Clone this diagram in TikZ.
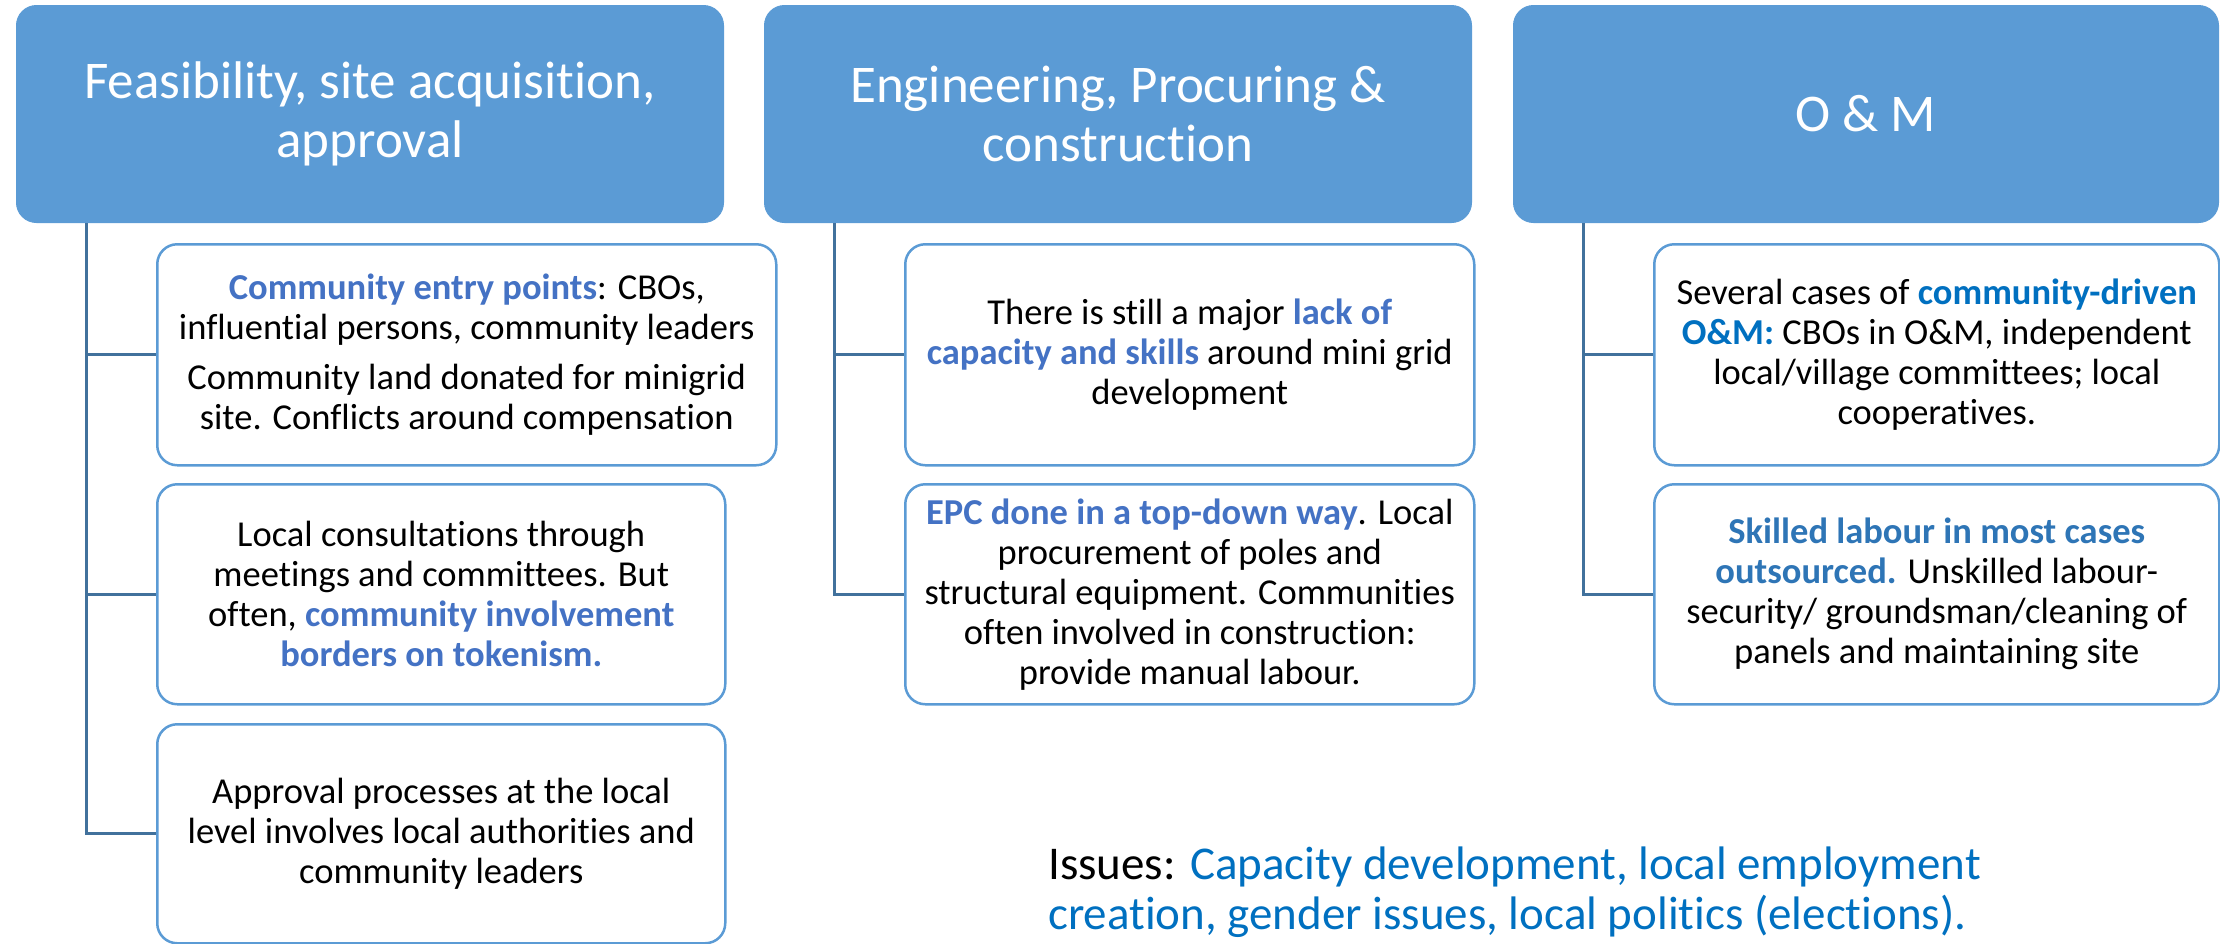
\documentclass[tikz,border=0pt]{standalone}
\usepackage{fontspec}
\setmainfont{Carlito}[Ligatures=NoCommon]
\definecolor{hdrfill}{HTML}{5B9BD5}
\definecolor{boxline}{HTML}{5B9BD5}
\definecolor{connline}{HTML}{41719C}
\definecolor{keyA}{HTML}{4472C4}
\definecolor{keyB}{HTML}{0070C0}
\definecolor{keyC}{HTML}{2E75B6}
\definecolor{issueblue}{HTML}{0070C0}
% highlighted key phrases
\newcommand\kwA[1]{\textcolor{keyA}{\bfseries #1}}
\newcommand\kwB[1]{\textcolor{keyB}{\bfseries #1}}
\newcommand\kwC[1]{\textcolor{keyC}{\bfseries #1}}
\begin{document}
\begin{tikzpicture}[x=1pt,y=-1pt,
  hdr/.style={fill=hdrfill, draw=hdrfill, line width=1pt, rounded corners=20pt,
    text=white, inner sep=0pt, align=center, anchor=north west,
    font=\fontsize{53}{59}\selectfont, minimum height=217pt},
  item/.style={draw=boxline, line width=2.5pt, fill=white, rounded corners=20pt,
    inner sep=0pt, align=center, anchor=north west,
    font=\fontsize{36.5}{40}\selectfont},
  conn/.style={draw=connline, line width=3pt}]
\useasboundingbox (0,0) rectangle (2220,943);

% phase headers
\node[hdr, minimum width=707pt] (h1) at (16,5) {Feasibility, site acquisition,\\approval};
\node[hdr, minimum width=707pt] (h2) at (764,5) {Engineering, Procuring \&\\construction};
\node[hdr, minimum width=705pt] (h3) at (1513,5) {O \& M};

% column 1
\node[item, minimum width=619pt, minimum height=221pt] (b11) at (156,243)
  {\kwA{Community entry points}: CBOs,\\influential persons, community leaders\\[10pt]
   Community land donated for minigrid\\site. Conflicts around compensation};
\node[item, minimum width=568pt, minimum height=220pt] (b12) at (156,483)
  {Local consultations through\\meetings and committees. But\\often, \kwA{community involvement}\\\kwA{borders on tokenism.}};
\node[item, minimum width=568pt, minimum height=219pt] (b13) at (156,723)
  {Approval processes at the local\\level involves local authorities and\\community leaders};

% column 2
\node[item, minimum width=569pt, minimum height=221pt] (b21) at (904,243)
  {There is still a major \kwA{lack of}\\\kwA{capacity and skills} around mini grid\\development};
\node[item, minimum width=569pt, minimum height=220pt] (b22) at (904,483)
  {\kwA{EPC done in a top-down way}. Local\\procurement of poles and\\structural equipment. Communities\\often involved in construction:\\provide manual labour.};

% column 3
\node[item, minimum width=565pt, minimum height=221pt] (b31) at (1653,243)
  {Several cases of \kwB{community-driven}\\\kwB{O\&M:} CBOs in O\&M, independent\\local/village committees; local\\cooperatives.};
\node[item, minimum width=565pt, minimum height=220pt] (b32) at (1653,483)
  {\kwC{Skilled labour in most cases}\\\kwC{outsourced.} Unskilled labour-\\security/ groundsman/cleaning of\\panels and maintaining site};

% tree connectors
\draw[conn] ([xshift=70pt]h1.south west) |- (b11.west);
\draw[conn] ([xshift=70pt]h1.south west) |- (b12.west);
\draw[conn] ([xshift=70pt]h1.south west) |- (b13.west);
\draw[conn] ([xshift=70pt]h2.south west) |- (b21.west);
\draw[conn] ([xshift=70pt]h2.south west) |- (b22.west);
\draw[conn] ([xshift=70pt]h3.south west) |- (b31.west);
\draw[conn] ([xshift=70pt]h3.south west) |- (b32.west);

% summary of issues
\node[anchor=north west, align=left, inner sep=0pt, font=\fontsize{47}{50}\selectfont] (issues) at (1048,847)
  {Issues: \textcolor{issueblue}{Capacity development, local employment}\\
   \textcolor{issueblue}{creation, gender issues, local politics (elections).}};
\end{tikzpicture}
\end{document}
